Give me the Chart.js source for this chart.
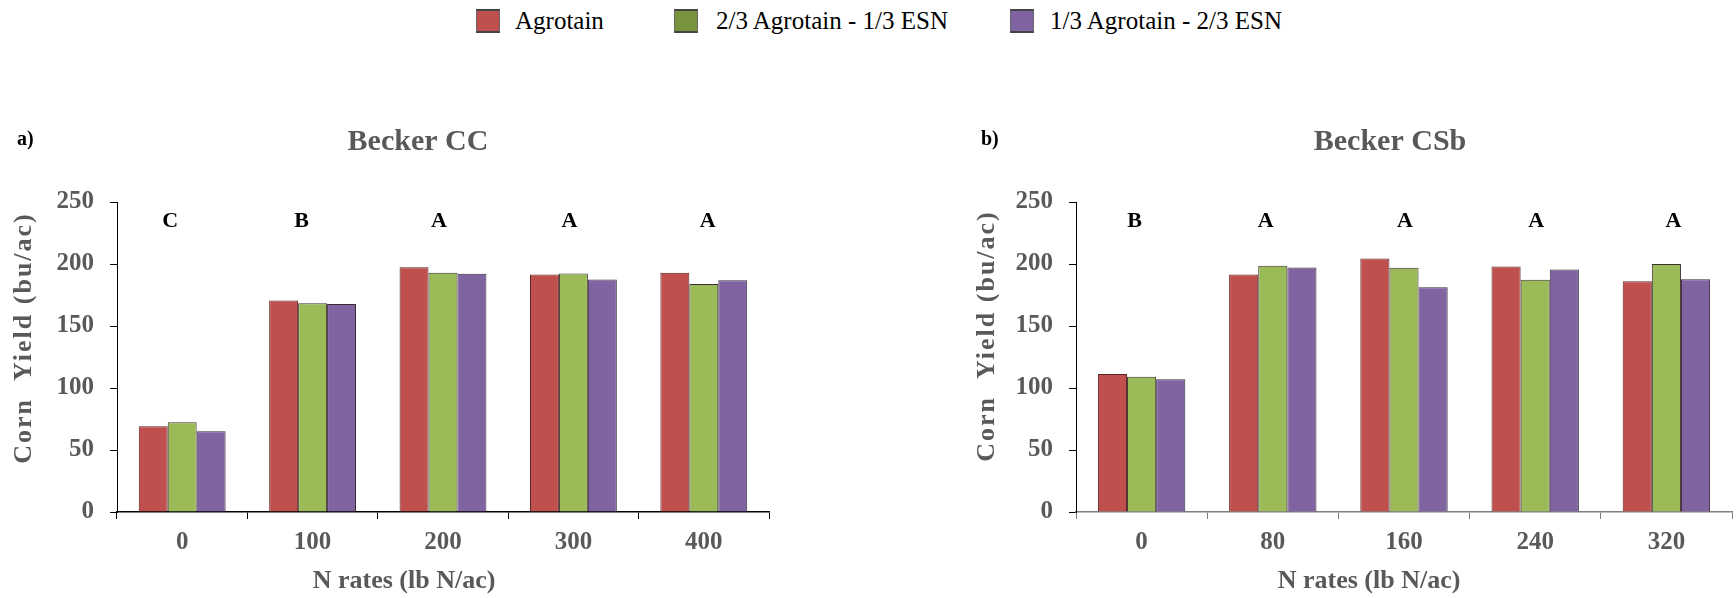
<!DOCTYPE html>
<html>
<head>
<meta charset="utf-8">
<script src="https://cdn.jsdelivr.net/npm/chart.js@4.4.1/dist/chart.umd.min.js"></script>
<style>
  html, body { margin: 0; padding: 0; background: #fff; }
  body { width: 1736px; height: 598px; position: relative; overflow: hidden; font-family: 'Liberation Serif', 'Times New Roman', serif; }
  canvas { position: absolute; top: 0; }
  #cA { left: 0; }
  #cB { left: 868px; }
  .lg-box { position: absolute; top: 9px; width: 22px; height: 20px; border-top: 2px solid #444; border-bottom: 2px solid #444; border-left: 1px solid #666; border-right: 1px solid #666; box-sizing: content-box; }
  .lg-text { position: absolute; top: 5px; font-size: 25px; line-height: 32px; color: #000; white-space: nowrap; }
</style>
</head>
<body>
<div class="lg-box" style="left:476px;background:#C0504D"></div>
<div class="lg-text" style="left:515px">Agrotain</div>
<div class="lg-box" style="left:674px;background:#77933C"></div>
<div class="lg-text" style="left:716px">2/3 Agrotain - 1/3 ESN</div>
<div class="lg-box" style="left:1010px;background:#8064A2"></div>
<div class="lg-text" style="left:1050px">1/3 Agrotain - 2/3 ESN</div>

<canvas id="cA" width="868" height="598"></canvas>
<canvas id="cB" width="868" height="598"></canvas>

<script>
// ---------- data ----------
const seriesNames = ['Agrotain', '2/3 Agrotain - 1/3 ESN', '1/3 Agrotain - 2/3 ESN'];

const categoriesA = ['0', '100', '200', '300', '400'];
const agrotainA   = [69.1, 170.5, 197.4, 191.6, 192.9];
const twoThirdsA  = [72.3, 168.4, 192.9, 192.4, 183.8];
const oneThirdA   = [65.1, 167.8, 192.1, 187.6, 186.8];
const lettersA    = ['C', 'B', 'A', 'A', 'A'];

const categoriesB = ['0', '80', '160', '240', '320'];
const agrotainB   = [111.3, 191.6, 204.4, 198.0, 186.0];
const twoThirdsB  = [109.1, 198.5, 196.9, 187.3, 200.1];
const oneThirdB   = [107.0, 197.2, 181.2, 195.6, 187.8];
const lettersB    = ['B', 'A', 'A', 'A', 'A'];

const yMin = 0, yMax = 250, yStep = 50;

// ---------- styles ----------
const FONT = "'Liberation Serif', 'Times New Roman', serif";
const GRAY = '#595959';
const fills = ['#C0504D', '#9BBB59', '#8064A2'];
const borders = ['#5a2422', '#3d3030', '#3a2a3a'];

function annotations(cfg) {
  return {
    id: 'annot_' + cfg.id,
    afterDraw(chart) {
      const ctx = chart.ctx;
      const xs = chart.scales.x;
      ctx.save();
      // title
      ctx.fillStyle = GRAY;
      ctx.font = 'bold 30px ' + FONT;
      ctx.textAlign = 'center';
      ctx.textBaseline = 'middle';
      ctx.fillText(cfg.title, cfg.titleX, 142);
      // panel label
      ctx.fillStyle = '#000';
      ctx.font = 'bold 20px ' + FONT;
      ctx.textAlign = 'left';
      ctx.fillText(cfg.panel, cfg.panelX, 140);
      // significance letters
      ctx.font = 'bold 22px ' + FONT;
      ctx.textAlign = 'center';
      cfg.letters.forEach((l, i) => {
        ctx.fillText(l, xs.getPixelForValue(i) + cfg.letterDx[i], 221);
      });
      // x title
      ctx.fillStyle = GRAY;
      ctx.font = 'bold 26px ' + FONT;
      ctx.fillText('N rates (lb N/ac)', cfg.xTitleX, 581);
      // y title
      ctx.translate(cfg.yTitleX, cfg.yTitleY);
      ctx.rotate(-Math.PI / 2);
      ctx.font = 'bold 26px ' + FONT;
      if ('letterSpacing' in ctx) ctx.letterSpacing = '2px';
      ctx.fillText('Corn  Yield (bu/ac)', 0, 0);
      ctx.restore();
    }
  };
}

function makeChart(el, cats, vals, cfg) {
  return new Chart(document.getElementById(el), {
    type: 'bar',
    data: {
      labels: cats,
      datasets: vals.map((v, i) => ({
        label: seriesNames[i],
        data: v,
        backgroundColor: fills[i],
        borderColor: borders[i],
        borderWidth: 1,
        borderSkipped: 'bottom'
      }))
    },
    options: {
      responsive: false,
      animation: false,
      devicePixelRatio: 1,
      layout: { padding: { top: 202, left: 0, right: cfg.padRight, bottom: 0 } },
      datasets: { bar: { barPercentage: 1.0, categoryPercentage: 0.666 } },
      plugins: { legend: { display: false }, title: { display: false }, tooltip: { enabled: false } },
      scales: {
        x: {
          afterFit(s) { s.height = 86; },
          grid: { display: true, drawOnChartArea: false, drawTicks: true, tickLength: 7, color: cfg.xAxisColor, offset: true },
          border: { display: true, color: cfg.xAxisColor, width: 1.5 },
          ticks: { color: GRAY, font: { family: FONT, size: 25, weight: 'bold' }, padding: 9 }
        },
        y: {
          min: yMin, max: yMax,
          afterFit(s) { s.width = cfg.yWidth; },
          grid: { display: true, drawOnChartArea: false, drawTicks: true, tickLength: 7, color: '#000' },
          border: { display: true, color: '#000', width: 1 },
          ticks: { stepSize: yStep, color: GRAY, font: { family: FONT, size: 25, weight: 'bold' }, padding: 16 }
        }
      }
    },
    plugins: [annotations(cfg)]
  });
}

makeChart('cA', categoriesA, [agrotainA, twoThirdsA, oneThirdA], {
  id: 'A', title: 'Becker CC', titleX: 418, panel: 'a)', panelX: 17,
  letters: lettersA, letterDx: [-12, -11, -4, -4, 4],
  xTitleX: 404, yTitleX: 24, yTitleY: 338,
  padRight: 99, yWidth: 117, xAxisColor: '#000'
});
makeChart('cB', categoriesB, [agrotainB, twoThirdsB, oneThirdB], {
  id: 'B', title: 'Becker CSb', titleX: 522, panel: 'b)', panelX: 113,
  letters: lettersB, letterDx: [-7, -7, 1, 1, 7],
  xTitleX: 501, yTitleX: 119, yTitleY: 336,
  padRight: 4, yWidth: 208, xAxisColor: '#7f7f7f'
});
</script>
</body>
</html>
